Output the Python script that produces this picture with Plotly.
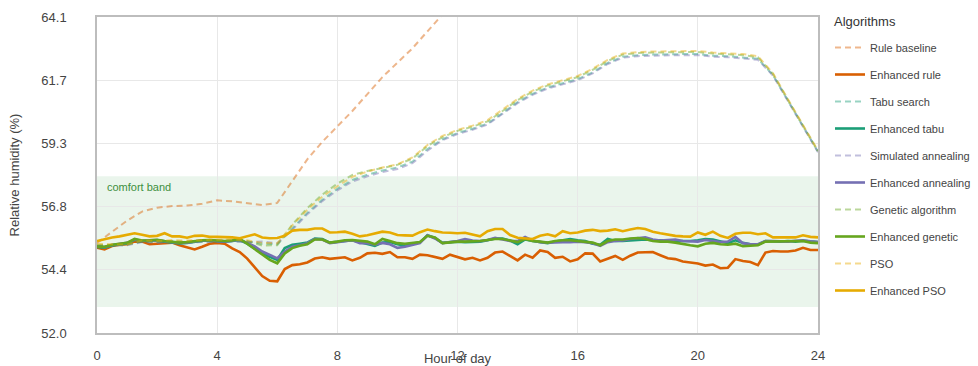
import plotly.graph_objects as go

# ---- time axes -------------------------------------------------------------
hours_fine = [i / 4 for i in range(97)]   # 15-minute steps, 0..24 h
hours_half = [i / 2 for i in range(49)]   # 30-minute steps, 0..24 h

# ---- relative humidity (%) per algorithm ------------------------------------
# baselines (30-minute resolution)
rule_baseline = [
    55.45, 55.88, 56.30, 56.65, 56.80, 56.86, 56.88, 56.95,
    57.08, 57.04, 56.98, 56.90, 56.98, 57.80, 58.65, 59.32,
    59.92, 60.50, 61.15, 61.80, 62.35, 62.90, 63.55, 64.20,
    64.85, 65.40, 65.95, 66.50, 67.00, 67.50, 67.90, 68.30,
    68.70, 69.10, 69.50, 69.80, 70.00, 70.10, 70.20, 70.20,
    70.20, 70.10, 70.00, 69.90, 69.80, 69.20, 68.10, 67.00,
    66.00,
]
tabu_search = [
    55.34, 55.35, 55.38, 55.50, 55.48, 55.50, 55.48, 55.50,
    55.52, 55.52, 55.50, 55.42, 55.40, 56.00, 56.60, 57.10,
    57.52, 57.86, 58.06, 58.22, 58.34, 58.56, 59.04, 59.42,
    59.66, 59.82, 60.02, 60.42, 60.84, 61.16, 61.40, 61.56,
    61.72, 61.98, 62.34, 62.58, 62.64, 62.66, 62.68, 62.68,
    62.68, 62.62, 62.60, 62.56, 62.50, 61.88, 60.88, 59.92,
    58.94,
]
simulated_annealing = [
    55.32, 55.34, 55.36, 55.48, 55.46, 55.48, 55.46, 55.48,
    55.50, 55.50, 55.48, 55.50, 55.44, 55.95, 56.55, 57.05,
    57.46, 57.80, 58.00, 58.16, 58.28, 58.50, 58.98, 59.38,
    59.62, 59.78, 59.98, 60.38, 60.80, 61.12, 61.36, 61.52,
    61.68, 61.94, 62.30, 62.54, 62.60, 62.62, 62.64, 62.64,
    62.64, 62.58, 62.56, 62.52, 62.46, 61.86, 60.86, 59.90,
    58.92,
]
genetic_algorithm = [
    55.38, 55.36, 55.40, 55.52, 55.50, 55.52, 55.50, 55.52,
    55.55, 55.55, 55.52, 55.35, 55.36, 56.15, 56.78, 57.30,
    57.72, 58.05, 58.20, 58.32, 58.44, 58.68, 59.16, 59.50,
    59.74, 59.90, 60.10, 60.50, 60.92, 61.24, 61.48, 61.64,
    61.80, 62.08, 62.42, 62.66, 62.72, 62.74, 62.74, 62.76,
    62.76, 62.70, 62.68, 62.64, 62.56, 61.92, 60.92, 59.95,
    58.96,
]
pso = [
    55.42, 55.40, 55.38, 55.55, 55.52, 55.56, 55.54, 55.56,
    55.56, 55.58, 55.55, 55.45, 55.44, 56.12, 56.72, 57.22,
    57.62, 57.98, 58.18, 58.34, 58.46, 58.72, 59.20, 59.55,
    59.78, 59.94, 60.15, 60.56, 60.96, 61.28, 61.52, 61.68,
    61.84, 62.12, 62.46, 62.70, 62.76, 62.78, 62.78, 62.80,
    62.80, 62.74, 62.72, 62.68, 62.60, 61.95, 60.95, 59.98,
    58.98,
]

# enhanced controllers (15-minute resolution, one row per hour)
enhanced_rule = [
    55.27, 55.20, 55.33, 55.38,
    55.40, 55.50, 55.50, 55.40,
    55.42, 55.45, 55.46, 55.36,
    55.28, 55.20, 55.30, 55.42,
    55.45, 55.42, 55.24, 55.10,
    54.85, 54.50, 54.18, 54.00,
    53.98, 54.45, 54.60, 54.63,
    54.70, 54.85, 54.90, 54.84,
    54.86, 54.90, 54.78, 54.88,
    55.05, 55.07, 55.03, 55.10,
    54.90, 54.90, 54.84, 55.00,
    54.98, 54.92, 54.84, 55.00,
    54.90, 54.82, 54.88, 54.78,
    54.88, 55.08, 55.12, 54.96,
    54.78, 55.00, 54.88, 55.16,
    55.10, 54.88, 54.92, 54.74,
    54.82, 55.05, 55.04, 54.74,
    54.86, 54.95, 54.80, 54.96,
    55.08, 55.10, 55.10, 54.98,
    54.86, 54.83, 54.74, 54.70,
    54.66, 54.58, 54.62, 54.48,
    54.50, 54.83, 54.76, 54.72,
    54.60, 55.08, 55.14, 55.12,
    55.12, 55.16, 55.26, 55.18,
    55.18,
]
enhanced_tabu = [
    55.30, 55.27, 55.35, 55.40,
    55.43, 55.57, 55.52, 55.53,
    55.55, 55.50, 55.47, 55.43,
    55.45, 55.50, 55.53, 55.53,
    55.52, 55.50, 55.52, 55.56,
    55.42, 55.25, 55.05, 54.92,
    54.80, 55.25, 55.38, 55.42,
    55.46, 55.62, 55.60, 55.46,
    55.48, 55.52, 55.55, 55.48,
    55.40, 55.34, 55.46, 55.48,
    55.40, 55.34, 55.42, 55.47,
    55.74, 55.64, 55.45, 55.48,
    55.50, 55.48, 55.48, 55.50,
    55.55, 55.62, 55.62, 55.54,
    55.40, 55.58, 55.52, 55.48,
    55.44, 55.50, 55.55, 55.60,
    55.55, 55.52, 55.42, 55.38,
    55.60, 55.52, 55.52, 55.54,
    55.55, 55.58, 55.55, 55.56,
    55.55, 55.52, 55.52, 55.52,
    55.55, 55.60, 55.58, 55.50,
    55.44, 55.55, 55.45, 55.40,
    55.38, 55.52, 55.50, 55.50,
    55.52, 55.50, 55.53, 55.50,
    55.48,
]
enhanced_annealing = [
    55.32, 55.29, 55.37, 55.41,
    55.45, 55.58, 55.53, 55.55,
    55.56, 55.51, 55.49, 55.45,
    55.46, 55.51, 55.55, 55.54,
    55.53, 55.51, 55.53, 55.57,
    55.45, 55.32, 55.12, 55.00,
    54.86, 55.12, 55.30, 55.36,
    55.44, 55.60, 55.58, 55.44,
    55.48, 55.53, 55.55, 55.44,
    55.44, 55.38, 55.45, 55.40,
    55.26, 55.30, 55.38, 55.44,
    55.74, 55.62, 55.44, 55.48,
    55.52, 55.60, 55.54, 55.52,
    55.56, 55.64, 55.58, 55.52,
    55.52, 55.68, 55.54, 55.48,
    55.46, 55.48, 55.48, 55.48,
    55.50, 55.48, 55.44, 55.34,
    55.48, 55.52, 55.54, 55.60,
    55.62, 55.66, 55.58, 55.54,
    55.56, 55.58, 55.52, 55.52,
    55.50, 55.56, 55.52, 55.48,
    55.50, 55.68, 55.44, 55.40,
    55.40, 55.52, 55.52, 55.50,
    55.50, 55.53, 55.55, 55.51,
    55.48,
]
enhanced_genetic = [
    55.31, 55.30, 55.38, 55.42,
    55.45, 55.60, 55.54, 55.55,
    55.57, 55.52, 55.50, 55.46,
    55.48, 55.52, 55.55, 55.56,
    55.54, 55.52, 55.54, 55.60,
    55.42, 55.22, 54.99, 54.80,
    54.67, 55.05, 55.25, 55.34,
    55.40, 55.58, 55.58, 55.46,
    55.50, 55.55, 55.56, 55.52,
    55.50, 55.40, 55.60, 55.52,
    55.44, 55.42, 55.46, 55.48,
    55.72, 55.66, 55.44, 55.48,
    55.50, 55.50, 55.50, 55.52,
    55.56, 55.60, 55.60, 55.54,
    55.48, 55.60, 55.52, 55.50,
    55.46, 55.52, 55.55, 55.55,
    55.52, 55.50, 55.46, 55.36,
    55.52, 55.58, 55.58, 55.62,
    55.64, 55.60, 55.52, 55.50,
    55.50, 55.46, 55.40, 55.36,
    55.32, 55.42, 55.45, 55.40,
    55.38, 55.42, 55.32, 55.34,
    55.36, 55.50, 55.50, 55.50,
    55.50, 55.50, 55.52, 55.46,
    55.44,
]
enhanced_pso = [
    55.52, 55.60, 55.66, 55.70,
    55.76, 55.82, 55.76, 55.70,
    55.72, 55.82, 55.70, 55.70,
    55.65, 55.72, 55.73, 55.68,
    55.68, 55.68, 55.66, 55.63,
    55.70, 55.78, 55.66, 55.63,
    55.64, 55.72, 55.92, 55.95,
    55.95, 56.00, 56.00, 55.85,
    55.86, 55.88, 55.80, 55.70,
    55.74, 55.82, 55.88, 55.85,
    55.75, 55.74, 55.73, 55.86,
    55.96, 55.90, 55.85, 55.84,
    55.82, 55.84, 55.76, 55.70,
    55.90, 55.98, 55.98, 55.75,
    55.65, 55.62, 55.60, 55.72,
    55.78, 55.70, 55.90, 55.82,
    55.85, 55.92, 55.95, 55.90,
    55.92, 55.97, 55.90, 55.96,
    56.02, 55.98, 55.88, 55.82,
    55.76, 55.72, 55.70, 55.69,
    55.85, 55.76, 55.88, 55.72,
    55.64, 55.80, 55.84, 55.84,
    55.78, 55.82, 55.66, 55.65,
    55.66, 55.66, 55.74, 55.68,
    55.66,
]

# comfort band limits (% RH) and axis ticks
comfort_low, comfort_high = 53.0, 58.0
y_ticks = [52.0, 54.42, 56.84, 59.26, 61.68, 64.1]
x_ticks = [0, 4, 8, 12, 16, 20, 24]

# (name, hours, values, colour, dashed?)
series = [
    ("Rule baseline", hours_half, rule_baseline, "#d95f02", True),
    ("Enhanced rule", hours_fine, enhanced_rule, "#d95f02", False),
    ("Tabu search", hours_half, tabu_search, "#1b9e77", True),
    ("Enhanced tabu", hours_fine, enhanced_tabu, "#1b9e77", False),
    ("Simulated annealing", hours_half, simulated_annealing, "#7570b3", True),
    ("Enhanced annealing", hours_fine, enhanced_annealing, "#7570b3", False),
    ("Genetic algorithm", hours_half, genetic_algorithm, "#66a61e", True),
    ("Enhanced genetic", hours_fine, enhanced_genetic, "#66a61e", False),
    ("PSO", hours_half, pso, "#e6ab02", True),
    ("Enhanced PSO", hours_fine, enhanced_pso, "#e6ab02", False),
]

FONT = "Liberation Sans, Arial, sans-serif"
W, H = 978, 366
ML, MR, MT, MB = 97, 160, 17, 33
PW, PH = W - ML - MR, H - MT - MB

fig = go.Figure()
for name, xs, ys, colour, dashed in series:
    fig.add_trace(go.Scatter(
        x=xs, y=ys, name=name, mode="lines",
        legendgroup=name,
        opacity=0.45 if dashed else 1.0,
        line=dict(color=colour, width=2 if dashed else 2.6,
                  dash="6px,4px" if dashed else "solid"),
    ))

fig.add_shape(type="rect", xref="x", yref="y",
              x0=0, x1=24, y0=comfort_low, y1=comfort_high,
              fillcolor="rgba(46,160,67,0.10)", line=dict(width=0),
              layer="below")
fig.add_annotation(x=0.25, y=comfort_high - 0.4, xref="x", yref="y",
                   text="comfort band", showarrow=False, xanchor="left",
                   font=dict(family=FONT, size=11, color="#3d8f3d"))

# legend heading, placed just above the legend entries
fig.add_annotation(x=(832 - ML) / PW, y=(H - MB - 22) / PH,
                   xref="paper", yref="paper",
                   text="Algorithms", showarrow=False,
                   xanchor="left", yanchor="middle",
                   font=dict(family=FONT, size=13, color="#333"))

fig.update_layout(
    width=W, height=H,
    margin=dict(l=ML, r=MR, t=MT, b=MB),
    paper_bgcolor="white", plot_bgcolor="white",
    font=dict(family=FONT, size=12, color="#444"),
    legend=dict(
        xref="container", yref="container",
        x=830 / W, xanchor="left", y=1 - 33 / H, yanchor="top",
        font=dict(size=11, color="#444"),
        tracegroupgap=8,
        maxheight=340,
        bgcolor="rgba(0,0,0,0)",
    ),
    showlegend=True,
)
fig.update_xaxes(
    range=[0, 24], tickvals=x_ticks,
    showgrid=True, gridcolor="#e8e8e8", gridwidth=1,
    showline=True, mirror=True, linecolor="#bdbdbd", linewidth=1.5,
    zeroline=False, ticks="", ticklabelstandoff=10,
    tickfont=dict(size=13, color="#444"),
    title=dict(text="Hour of day", font=dict(size=13, color="#444"), standoff=0),
    automargin=False,
)
fig.update_yaxes(
    range=[52.0, 64.1], tickvals=y_ticks, tickformat=".1f",
    showgrid=True, gridcolor="#e8e8e8", gridwidth=1,
    showline=True, mirror=True, linecolor="#bdbdbd", linewidth=1.5,
    zeroline=False, ticks="", ticklabelstandoff=26,
    tickfont=dict(size=13, color="#444"),
    title=dict(text="Relative humidity (%)", font=dict(size=13, color="#444"), standoff=19),
    automargin=False,
)

fig.write_html("out.html")
